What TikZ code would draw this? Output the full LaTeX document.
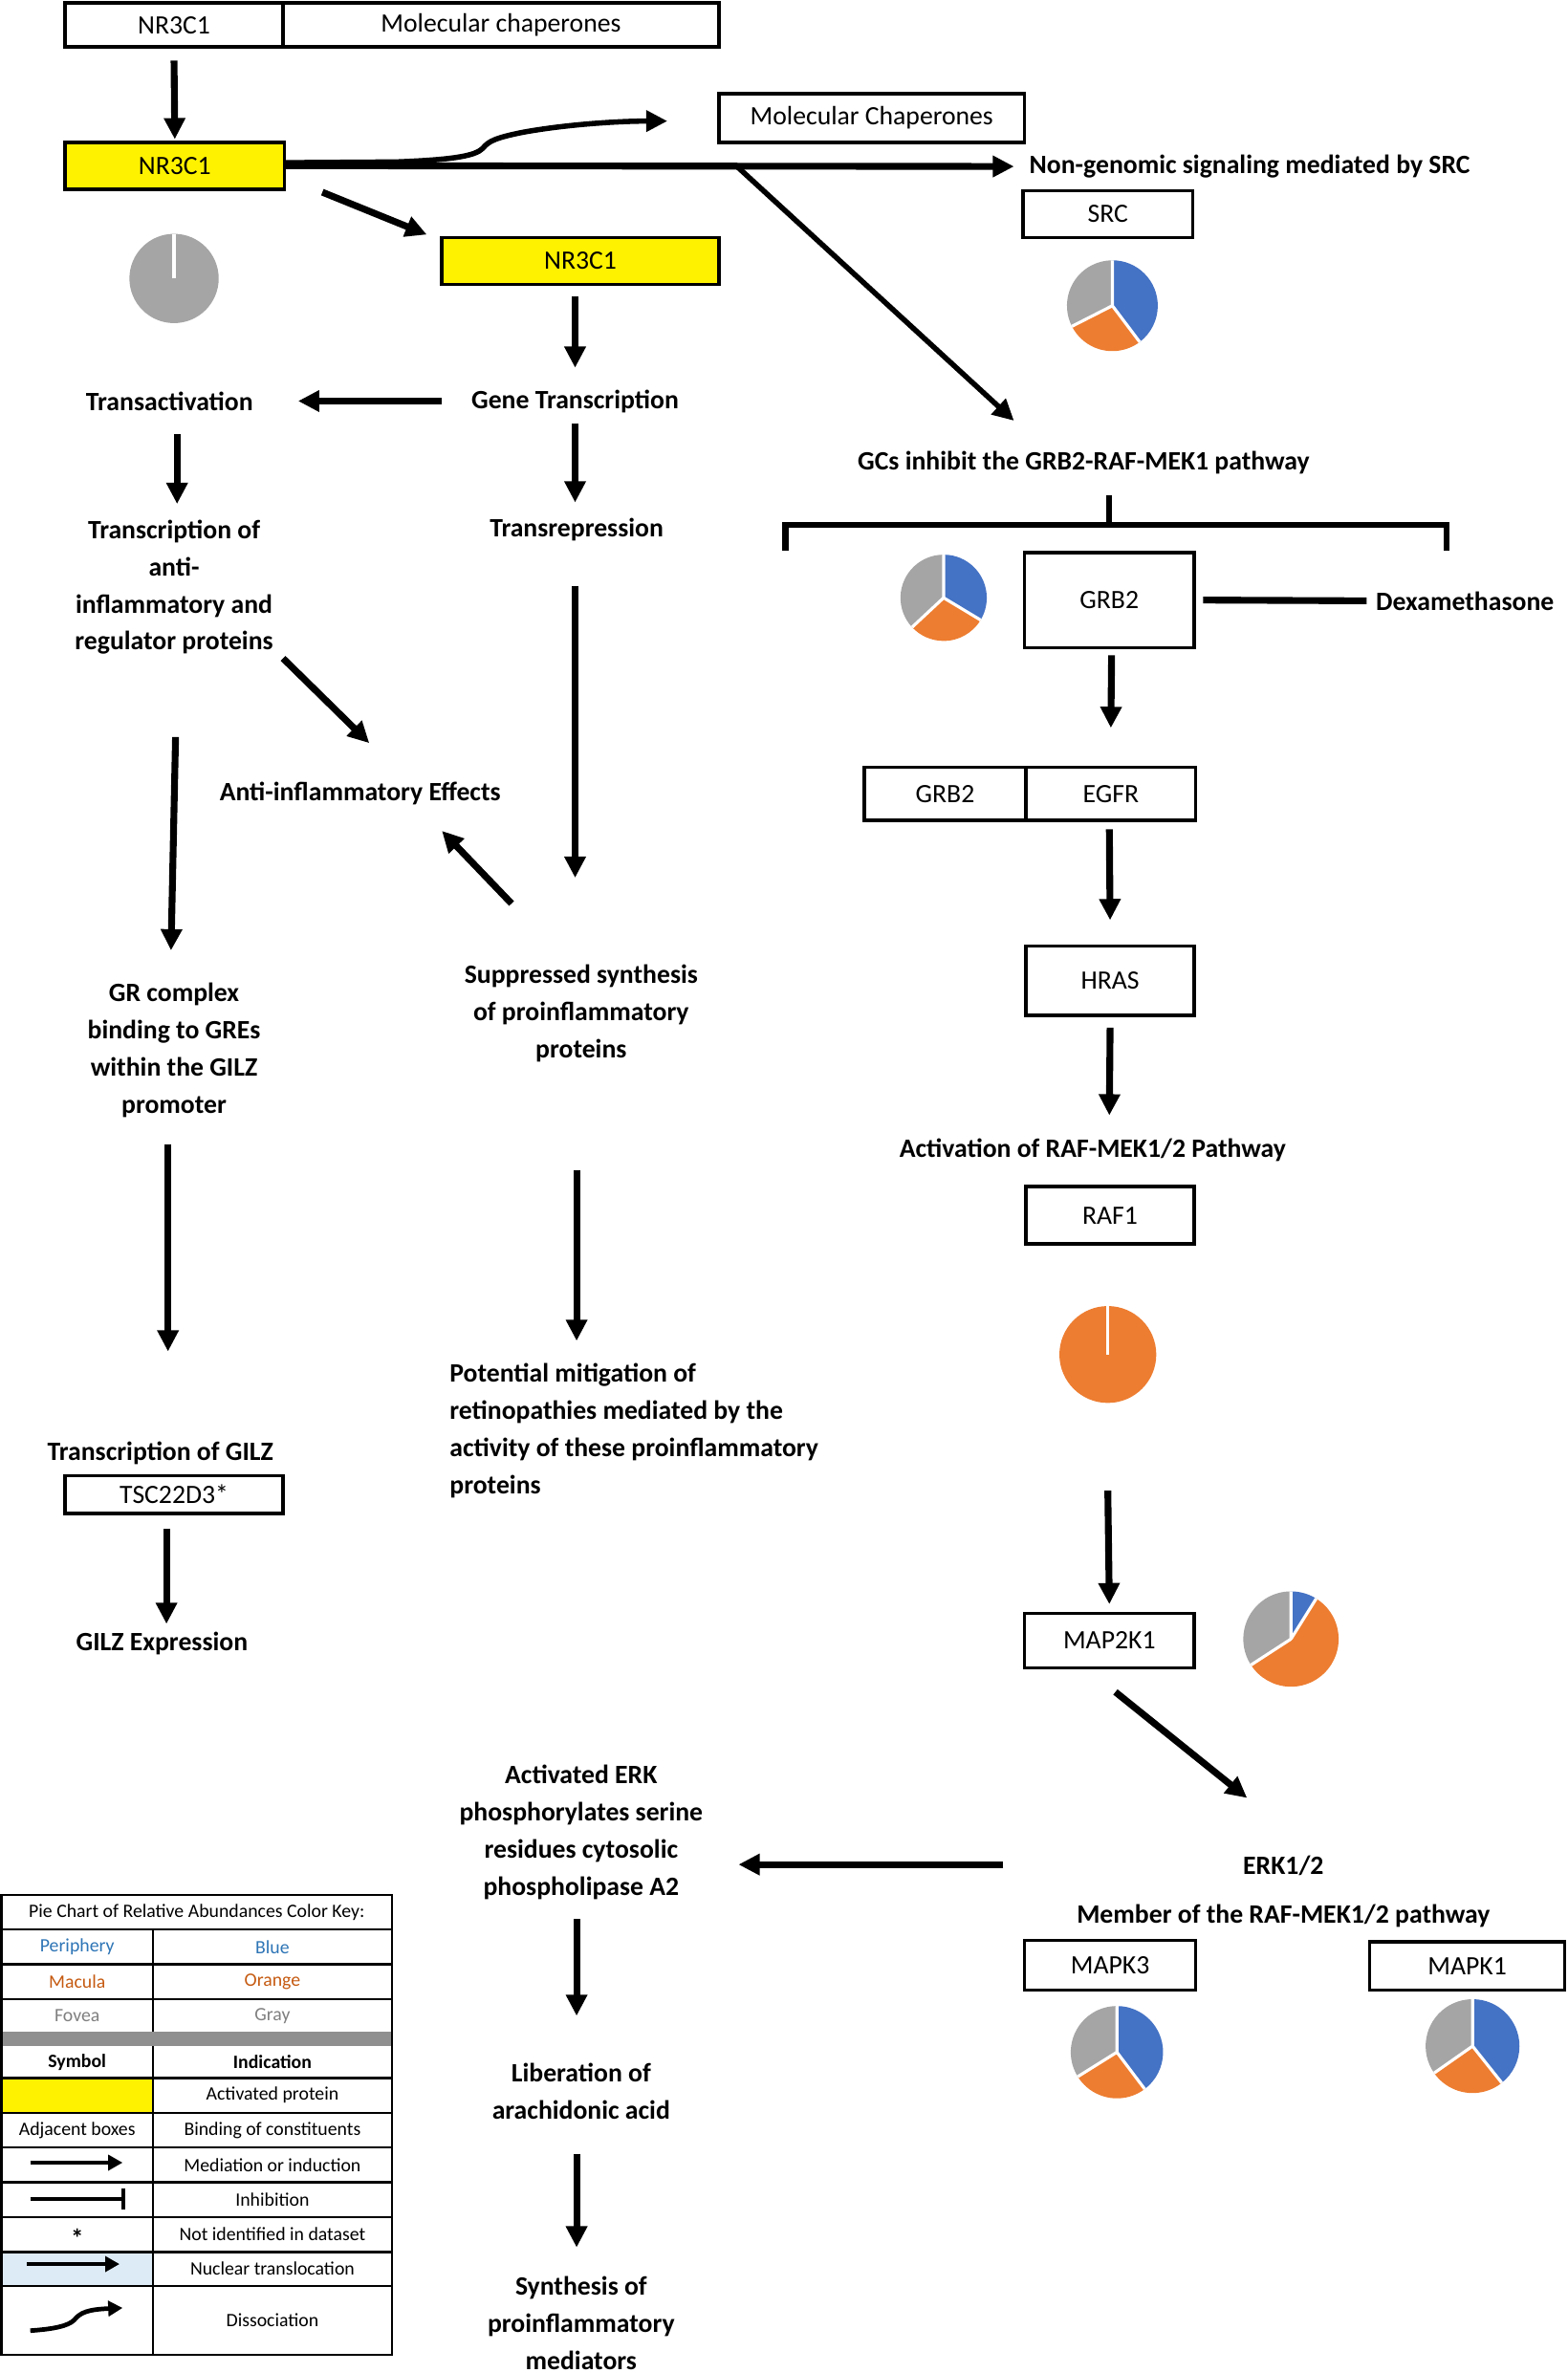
\documentclass[tikz,border=0pt]{standalone}
\usepackage{fontspec}
\setmainfont{Carlito}
\usetikzlibrary{arrows.meta}
\usetikzlibrary{positioning}
\definecolor{pieblue}{HTML}{4472C4}
\definecolor{pieorange}{HTML}{ED7D31}
\definecolor{piegray}{HTML}{A5A5A5}
\definecolor{keyblue}{HTML}{2E75B6}
\definecolor{keyorange}{HTML}{C55A11}
\definecolor{keygray}{HTML}{7F7F7F}
\definecolor{bandgray}{HTML}{8F8F8F}
\definecolor{nucblue}{HTML}{DDEBF7}
\tikzset{
  box/.style={draw, line width=2.2pt, inner sep=0pt, outer sep=0pt, font=\fontsize{17.5}{21}\selectfont},
  actbox/.style={box, fill=yellow},
  txt/.style={font=\fontsize{17.5}{24.6}\selectfont\bfseries, align=center, inner sep=2pt},
  arr/.style={line width=4.5pt, -{Triangle[length=14pt,width=13.5pt]}},
  thinarr/.style={line width=3.5pt, -{Triangle[length=14pt,width=13.5pt]}},
  keytxt/.style={font=\fontsize{12.5}{14}\selectfont, inner sep=1pt},
  keyarr/.style={line width=3pt, -{Triangle[length=9.5pt,width=10pt]}},
}
% pie: centre, radius, end of blue, end of orange
\newcommand{\piechart}[4]{%
  \fill[pieblue] (#1) -- ++(90:#2) arc[start angle=90, end angle=#3, radius=#2] -- cycle;
  \fill[pieorange] (#1) -- ++(#3:#2) arc[start angle=#3, end angle=#4, radius=#2] -- cycle;
  \fill[piegray] (#1) -- ++(#4:#2) arc[start angle=#4, end angle=-270, radius=#2] -- cycle;
  \draw[white, line width=2pt] (#1) -- ++(90:#2) (#1) -- ++(#3:#2) (#1) -- ++(#4:#2);
}
\begin{document}
\begin{tikzpicture}[x=1pt,y=1pt]
\useasboundingbox (0,0) rectangle (1036,-1568);

% receptor, chaperones
\node[box, minimum width=144pt, minimum height=29pt] (gr0) at (115,-16.5) {NR3C1};
\node[box, minimum width=288pt, minimum height=29pt, right=0pt of gr0] (chap0) {Molecular chaperones};
\node[actbox, minimum width=145pt, minimum height=31pt] (gr) at (115.5,-109.5) {NR3C1};
\node[box, minimum width=202pt, minimum height=32pt] (chap) at (576,-78) {Molecular Chaperones};
\node[actbox, minimum width=183pt, minimum height=31pt] (grn) at (383.5,-172.5) {NR3C1};
\node[txt, anchor=west] (nongen) at (678,-110) {Non-genomic signaling mediated by SRC};
\node[box, minimum width=112pt, minimum height=31pt] (src) at (732,-141.5) {SRC};

\coordinate (pgr) at (115,-184);
\fill[piegray] (pgr) circle[radius=29.5];
\draw[white, line width=2pt] (pgr) -- ++(0,29.5);
\coordinate (psrc) at (735,-202);
\piechart{psrc}{30}{-53}{-153}

\draw[arr] ([yshift=-9pt]gr0.south) -- ([yshift=2pt]gr.north);
\draw[arr, shorten >=8pt] (gr.east) -- (nongen.west);
\draw[thinarr] ([yshift=2pt]gr.east) -- (262,-107) .. controls (300,-105.5) and (314,-103) .. (319,-98)
  .. controls (323,-93) and (328,-91) .. (345,-87.5) .. controls (375,-82) and (410,-80) .. ([shift={(-34,-2)}]chap.west);
\draw[arr] ([shift={(25,-2)}]gr.south east) -- ([shift={(-10,2)}]grn.north west);

% genomic side
\node[txt] (transact) at (112,-265) {Transactivation};
\node[txt] (gene) at (380,-265) {Gene Transcription};
\node[txt] (tranreg) at (115,-388) {Transcription of\\anti-\\inflammatory and\\regulator proteins};
\node[txt] (trep) at (381,-350) {Transrepression};
\node[txt] (antiinf) at (238,-524) {Anti-inflammatory Effects};
\node[txt] (supp) at (384,-669.5) {Suppressed synthesis\\of proinflammatory\\proteins};
\node[txt] (grc) at (115,-694) {GR complex\\binding to GREs\\within the GILZ\\promoter};
\node[txt, align=left, anchor=west] (pot) at (295,-945.5) {Potential mitigation of\\retinopathies mediated by the\\activity of these proinflammatory\\proteins};
\node[txt] (tgilz) at (106,-960) {Transcription of GILZ};
\node[box, minimum width=144pt, minimum height=25pt] (tsc) at (115,-987.5) {TSC22D3*};
\node[txt] (gilz) at (107,-1086) {GILZ Expression};

\draw[arr] ([shift={(-3.5,-8)}]grn.south) -- ([yshift=22pt]gene.center);
\draw[arr] ([xshift=-88pt]gene.center) -- ([xshift=85pt]transact.center);
\draw[arr] ([shift={(5,-22)}]transact.center) -- ([shift={(2,55)}]tranreg.center);
\draw[arr] ([yshift=-15pt]gene.center) -- ([shift={(-1,18)}]trep.center);
\draw[arr] ([shift={(72,-47)}]tranreg.center) -- ([shift={(6,33)}]antiinf.center);
\draw[arr] ([shift={(-1,-37)}]trep.center) -- ([shift={(-4,89.5)}]supp.center);
\draw[arr] ([shift={(-46,72.5)}]supp.center) -- ([shift={(54,-25)}]antiinf.center);
\draw[arr] ([shift={(1,-99)}]tranreg.center) -- ([shift={(-2,66)}]grc.center);
\draw[arr] ([shift={(-4,-62)}]grc.center) -- ([shift={(5,67)}]tgilz.center);
\draw[arr] ([shift={(-3,-103.5)}]supp.center) -- ([shift={(86,59.5)}]pot.west);
\draw[arr] ([shift={(-5,-10)}]tsc.south) -- ([shift={(3,13)}]gilz.center);

% GRB2-RAF-MEK1 pathway
\node[txt] (gcs) at (716,-306) {GCs inhibit the GRB2-RAF-MEK1 pathway};
\coordinate (split) at (487,-110);
\draw[thinarr] (split) -- ([shift={(-46,28)}]gcs.center);
\coordinate (brl) at (519,-364);
\coordinate (brm) at (733,-347);
\coordinate (brr) at (956,-364);
\draw[line width=4pt] ([shift={(17,-21)}]gcs.center) -- (brm);
\draw[line width=4pt] (brl) |- (brm) -| (brr);

\node[box, minimum width=112pt, minimum height=63pt] (grb) at (733,-396.5) {GRB2};
\node[txt, anchor=west] (dexa) at (907,-397) {Dexamethasone};
\draw[line width=4.5pt] ([xshift=6pt]grb.east) -- ([xshift=-4pt]dexa.west);
\coordinate (pgrb) at (623.5,-395);
\piechart{pgrb}{28.5}{-31}{-137}

\node[box, minimum width=107pt, minimum height=35pt] (grb2) at (624.5,-524.5) {GRB2};
\node[box, minimum width=112pt, minimum height=35pt, right=0pt of grb2] (egfr) {EGFR};
\node[box, minimum width=111pt, minimum height=46pt] (hras) at (733.5,-648) {HRAS};
\node[txt] (actraf) at (722,-760) {Activation of RAF-MEK1/2 Pathway};
\node[box, minimum width=111pt, minimum height=38pt] (raf) at (733.5,-803) {RAF1};
\coordinate (praf) at (732,-895);
\fill[pieorange] (praf) circle[radius=32];
\draw[white, line width=2pt] (praf) -- ++(0,32);
\node[box, minimum width=112pt, minimum height=36pt] (mek) at (733,-1084) {MAP2K1};
\coordinate (pmek) at (853,-1083);
\piechart{pmek}{31.5}{58}{-147}

\draw[arr] ([shift={(1.5,-5)}]grb.south) -- ([yshift=26pt]egfr.north);
\draw[arr] ([shift={(-1,-6)}]egfr.south) -- ([yshift=17pt]hras.north);
\draw[arr] ([yshift=-8pt]hras.south) -- ([shift={(11,23)}]actraf.center);
\draw[arr] ([yshift=-90pt]praf) -- ([yshift=6pt]mek.north);

% ERK
\node[txt] (erk) at (848,-1233) {ERK1/2};
\node[txt] (member) at (848,-1266) {Member of the RAF-MEK1/2 pathway};
\node[box, minimum width=113pt, minimum height=33pt] (mapk3) at (733.5,-1298.5) {MAPK3};
\node[box, minimum width=129pt, minimum height=32pt] (mapk1) at (969.5,-1299) {MAPK1};
\coordinate (pk3) at (738,-1356);
\piechart{pk3}{30.5}{-53}{-148}
\coordinate (pk1) at (973,-1352);
\piechart{pk1}{31}{-51.5}{-145}

\node[txt] (aerk) at (384,-1210.5) {Activated ERK\\phosphorylates serine\\residues cytosolic\\phospholipase A2};
\node[txt] (libr) at (384,-1382) {Liberation of\\arachidonic acid};
\node[txt] (synth) at (384,-1535) {Synthesis of\\proinflammatory\\mediators};

\draw[arr] ([shift={(4,-16)}]mek.south) -- ([shift={(-24,45)}]erk.center);
\draw[arr] ([shift={(-185,1)}]erk.center) -- ([shift={(104,-21.5)}]aerk.center);
\draw[arr] ([shift={(-3,-57.5)}]aerk.center) -- ([shift={(-3,50)}]libr.center);
\draw[arr] ([shift={(-3,-41)}]libr.center) -- ([shift={(-3,50)}]synth.center);

% colour key
\fill[bandgray] (1,-1342.5) rectangle (259,-1352);
\fill[yellow] (1,-1373) rectangle (101,-1396);
\fill[nucblue] (1,-1488) rectangle (101,-1510.6);
\draw[line width=1.5pt] (1,-1252) rectangle (259,-1556);
\foreach \y in {1275,1298,1321,1373,1396,1419,1442,1465,1488,1510.6}
  \draw[line width=1.5pt] (1,-\y) -- (259,-\y);
\draw[line width=1.5pt] (101,-1275) -- (101,-1342.5) (101,-1352) -- (101,-1556);

\node[keytxt] (keyhead) at (130,-1263.5) {Pie Chart of Relative Abundances Color Key:};
\node[keytxt, text=keyblue] (kperi) at (51,-1286.5) {Periphery};
\node[keytxt, text=keyblue] (kblue) at (180,-1286.5) {Blue};
\node[keytxt, text=keyorange] (kmac) at (51,-1309.5) {Macula};
\node[keytxt, text=keyorange] (korange) at (180,-1309.5) {Orange};
\node[keytxt, text=keygray] (kfov) at (51,-1332) {Fovea};
\node[keytxt, text=keygray] (kgray) at (180,-1332) {Gray};
\node[keytxt, font=\fontsize{12.5}{14}\selectfont\bfseries] (ksym) at (51,-1362.5) {Symbol};
\node[keytxt, font=\fontsize{12.5}{14}\selectfont\bfseries] (kind) at (180,-1362.5) {Indication};
\node[keytxt] (kact) at (180,-1384.5) {Activated protein};
\node[keytxt] (kadj) at (51,-1407.5) {Adjacent boxes};
\node[keytxt] (kbind) at (180,-1407.5) {Binding of constituents};
\node[keytxt] (kmed) at (180,-1430.5) {Mediation or induction};
\node[keytxt] (kinh) at (180,-1453.5) {Inhibition};
\node[keytxt, font=\fontsize{17}{17}\selectfont\bfseries] (kstar) at (51,-1479) {*};
\node[keytxt] (knot) at (180,-1476.5) {Not identified in dataset};
\node[keytxt] (knuc) at (180,-1499) {Nuclear translocation};
\node[keytxt] (kdis) at (180,-1533) {Dissociation};

\draw[keyarr] (20,-1429) -- (81,-1429);
\draw[line width=3pt, -{Bar[width=14pt]}] (20,-1453) -- (83,-1453);
\draw[keyarr] (18,-1496) -- (79,-1496);
\draw[keyarr] (20,-1540) .. controls (35,-1539) and (45,-1537) .. (49,-1533)
  .. controls (53,-1528) and (58,-1526) .. (81,-1525);
\end{tikzpicture}
\end{document}
